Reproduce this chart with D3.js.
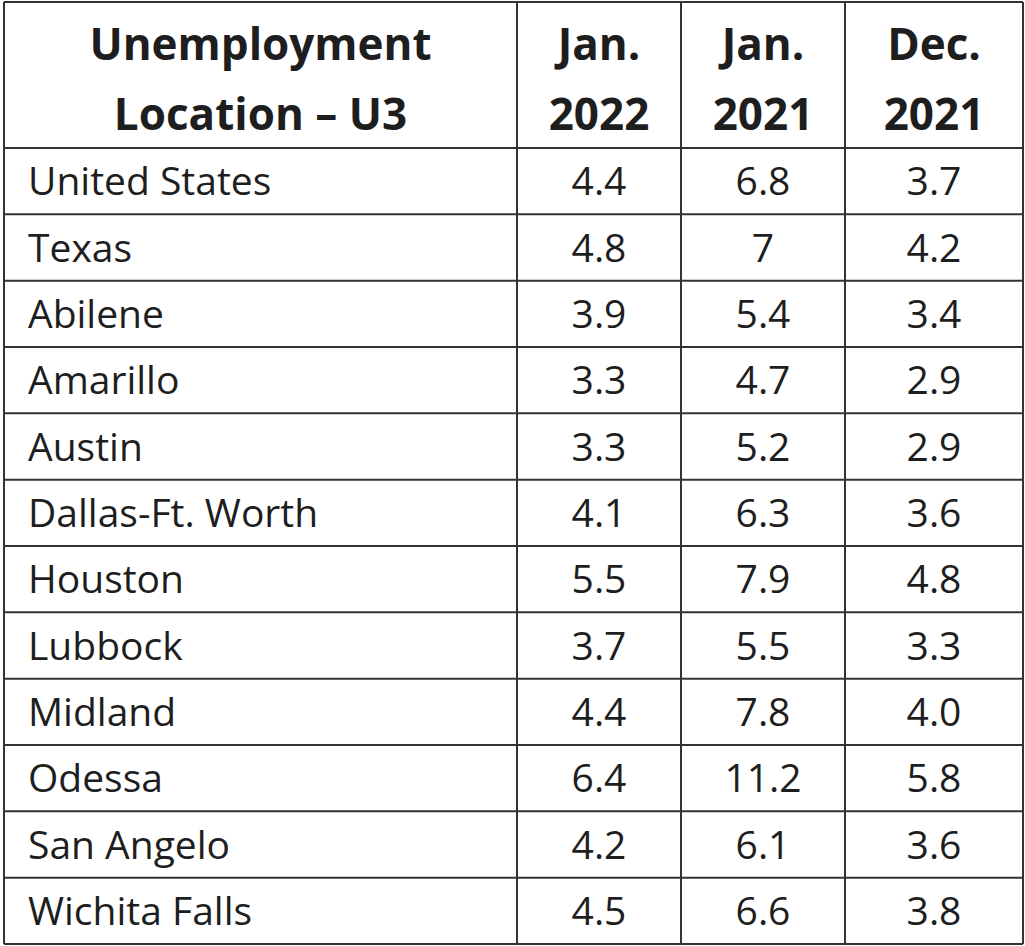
<!DOCTYPE html>
<html><head><meta charset="utf-8">
<script src="https://cdn.jsdelivr.net/npm/d3@7"></script>
<style>body{margin:0;background:#fff}</style>
</head><body>
<svg id="chart" width="1025" height="946"></svg>
<script>
const headers = [["Unemployment", "Location \u2013 U3"], ["Jan.", "2022"], ["Jan.", "2021"], ["Dec.", "2021"]];
const locations = ["United States", "Texas", "Abilene", "Amarillo", "Austin", "Dallas-Ft. Worth", "Houston", "Lubbock", "Midland", "Odessa", "San Angelo", "Wichita Falls"];
const jan2022 = ["4.4", "4.8", "3.9", "3.3", "3.3", "4.1", "5.5", "3.7", "4.4", "6.4", "4.2", "4.5"];
const jan2021 = ["6.8", "7", "5.4", "4.7", "5.2", "6.3", "7.9", "5.5", "7.8", "11.2", "6.1", "6.6"];
const dec2021 = ["3.7", "4.2", "3.4", "2.9", "2.9", "3.6", "4.8", "3.3", "4.0", "5.8", "3.6", "3.8"];

const svg = d3.select("#chart");
const colEdges = [4, 517, 681, 845, 1023];
const headTop = 2, headBottom = 148, bottom = 944;
const rowH = (bottom - headBottom) / locations.length;
const font = "'Open Sans', sans-serif";
const ink = "#1e1e1e";

const y = d3.scaleBand().domain(d3.range(locations.length)).range([headBottom, bottom]);

// grid lines
const g = svg.append("g").attr("stroke", "#333").attr("stroke-width", 2);
colEdges.forEach(x => g.append("line").attr("x1", x).attr("x2", x).attr("y1", headTop).attr("y2", bottom));
[headTop, headBottom, ...locations.map((d, i) => y(i) + rowH)].forEach(yy =>
  g.append("line").attr("x1", colEdges[0]).attr("x2", colEdges[4]).attr("y1", yy).attr("y2", yy));

// headers
headers.forEach((h, c) => {
  const cx = (colEdges[c] + colEdges[c + 1]) / 2;
  h.forEach((t, k) => svg.append("text").attr("x", cx).attr("y", 60 + k * 70)
    .attr("text-anchor", "middle").attr("font-family", font).attr("font-weight", "bold")
    .attr("font-size", 44).attr("fill", ink).text(t));
});

// body
const cols = [jan2022, jan2021, dec2021];
locations.forEach((loc, i) => {
  const by = y(i) + rowH / 2 + 14;
  svg.append("text").attr("x", 28).attr("y", by).attr("font-family", font)
    .attr("font-size", 39).attr("fill", ink).text(loc);
  cols.forEach((arr, c) => {
    const cx = (colEdges[c + 1] + colEdges[c + 2]) / 2;
    svg.append("text").attr("x", cx).attr("y", by).attr("text-anchor", "middle")
      .attr("font-family", font).attr("font-size", 39).attr("fill", ink).text(arr[i]);
  });
});
</script>
</body></html>
